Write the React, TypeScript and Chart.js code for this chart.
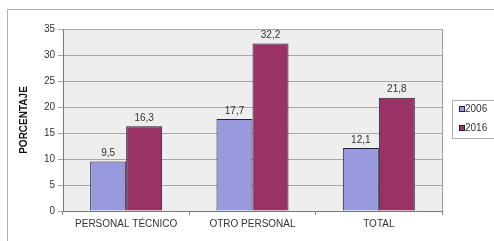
import React, { useEffect, useRef } from "react";
import { Chart, registerables } from "chart.js";

Chart.register(...registerables);

const categories = ["PERSONAL TÉCNICO", "OTRO PERSONAL", "TOTAL"];
const series2006 = [9.5, 17.7, 12.1];
const series2016 = [16.3, 32.2, 21.8];
const seriesNames = ["2006", "2016"];
const seriesColors = ["#9999dd", "#993366"];
const yTicks = [0, 5, 10, 15, 20, 25, 30, 35];

const FONT = "'Liberation Sans', Arial, sans-serif";

const decorPlugin = {
  id: "decor",
  beforeDraw(chart: any) {
    const { ctx, chartArea } = chart;
    ctx.save();
    ctx.fillStyle = "#ffffff";
    ctx.fillRect(0, 0, chart.width, chart.height);
    // outer frame
    ctx.strokeStyle = "#b0b0b0";
    ctx.lineWidth = 1;
    ctx.beginPath();
    ctx.moveTo(7.5, chart.height + 2);
    ctx.lineTo(7.5, 9.5);
    ctx.lineTo(chart.width + 2, 9.5);
    ctx.stroke();
    // plot background
    ctx.fillStyle = "#eeeeee";
    ctx.fillRect(chartArea.left, chartArea.top, chartArea.right - chartArea.left, chartArea.bottom - chartArea.top);
    ctx.restore();
  },
  afterDatasetsDraw(chart: any) {
    const { ctx, chartArea } = chart;
    ctx.save();
    // right border of plot
    ctx.strokeStyle = "#a0a0a0";
    ctx.lineWidth = 1;
    ctx.beginPath();
    ctx.moveTo(Math.round(chartArea.right) + 0.5, chartArea.top);
    ctx.lineTo(Math.round(chartArea.right) + 0.5, chartArea.bottom);
    ctx.stroke();
    // data labels
    ctx.fillStyle = "#333333";
    ctx.font = `10px ${FONT}`;
    ctx.textAlign = "center";
    ctx.textBaseline = "bottom";
    chart.data.datasets.forEach((ds: any, di: number) => {
      const meta = chart.getDatasetMeta(di);
      meta.data.forEach((bar: any, i: number) => {
        const v = ds.data[i];
        ctx.fillText(String(v).replace(".", ","), bar.x, bar.y - 3);
      });
    });
    // legend
    const lx = 452.5, ly = 100.5, lw = 60, lh = 38;
    ctx.strokeStyle = "#b0b0b0";
    ctx.fillStyle = "#ffffff";
    ctx.fillRect(lx, ly, lw, lh);
    ctx.strokeRect(lx, ly, lw, lh);
    ctx.textAlign = "left";
    ctx.textBaseline = "middle";
    ctx.font = `10px ${FONT}`;
    seriesNames.forEach((name, i) => {
      const cy = 109 + i * 19;
      ctx.fillStyle = seriesColors[i];
      ctx.fillRect(459.5, cy - 2.5, 5, 5);
      ctx.strokeStyle = "#222244";
      ctx.strokeRect(459.5, cy - 2.5, 5, 5);
      ctx.fillStyle = "#333333";
      ctx.fillText(name, 465, cy + 0.5);
    });
    ctx.restore();
  },
};

export default function App() {
  const ref = useRef<HTMLCanvasElement>(null);
  useEffect(() => {
    document.body.style.margin = "0";
    const chart = new Chart(ref.current!, {
      type: "bar",
      data: {
        labels: categories,
        datasets: [
          {
            label: seriesNames[0],
            data: series2006,
            backgroundColor: seriesColors[0],
            borderColor: "#222233",
            borderWidth: 1,
            categoryPercentage: 0.57,
            barPercentage: 1,
          },
          {
            label: seriesNames[1],
            data: series2016,
            backgroundColor: seriesColors[1],
            borderColor: "#222233",
            borderWidth: 1,
            categoryPercentage: 0.57,
            barPercentage: 1,
          },
        ],
      },
      options: {
        animation: false,
        responsive: false,
        maintainAspectRatio: false,
        layout: { padding: { left: 18, top: 29, right: 52, bottom: 0 } },
        plugins: { legend: { display: false }, tooltip: { enabled: false } },
        scales: {
          x: {
            grid: { display: true, drawOnChartArea: false, drawTicks: true, tickLength: 4, color: "#888888" },
            border: { color: "#777777" },
            ticks: { color: "#333333", font: { family: FONT, size: 10 }, padding: 3 },
            afterFit(scale: any) {
              scale.height = 30;
            },
          },
          y: {
            min: 0,
            max: 35,
            afterBuildTicks(scale: any) {
              scale.ticks = yTicks.map((v) => ({ value: v }));
            },
            grid: { color: "#a8a8a8", tickLength: 5 },
            border: { color: "#777777" },
            ticks: { color: "#333333", font: { family: FONT, size: 10 }, padding: 3 },
            title: {
              display: true,
              text: "PORCENTAJE",
              color: "#111111",
              font: { family: FONT, size: 10, weight: "bold" },
              padding: 0,
            },
            afterFit(scale: any) {
              scale.width = 45;
            },
          },
        },
      },
      plugins: [decorPlugin],
    });
    return () => chart.destroy();
  }, []);
  return <canvas ref={ref} width={494} height={241} style={{ display: "block" }} />;
}
